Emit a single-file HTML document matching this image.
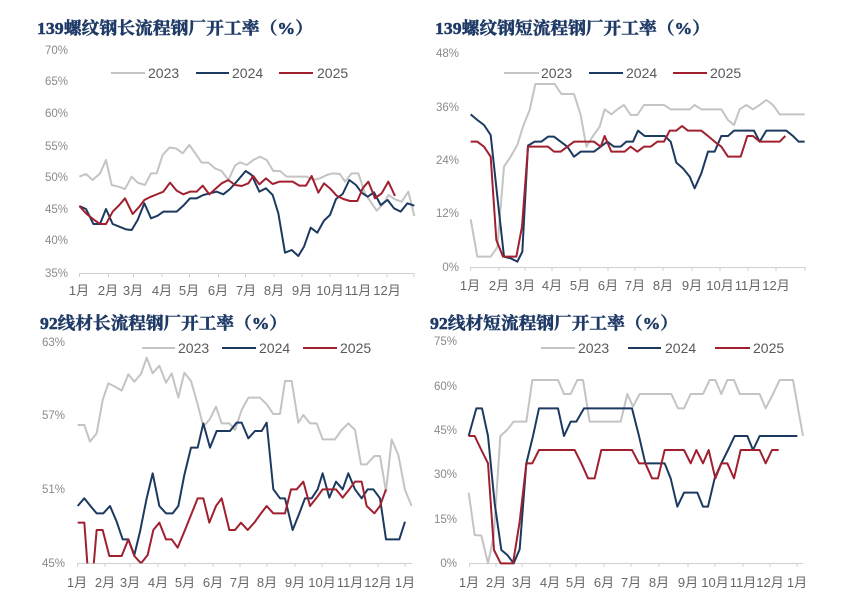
<!DOCTYPE html>
<html><head><meta charset="utf-8"><style>
html,body{margin:0;padding:0;background:#fff;}
svg{display:block;}
.t{font-family:"Liberation Serif","Noto Serif CJK SC",serif;font-weight:bold;font-size:17px;fill:#1f3a66;stroke:#1f3a66;stroke-width:0.5;}
.y{font-family:"Liberation Sans",sans-serif;font-size:11.5px;fill:#8a8a8a;text-anchor:end;}
.m{font-family:"Liberation Sans","Noto Sans CJK SC",sans-serif;font-size:13px;fill:#666;text-anchor:middle;}
.l{font-family:"Liberation Sans",sans-serif;font-size:14px;fill:#595959;}
.g{fill:none;stroke:#c4c4c4;stroke-width:2;stroke-linejoin:round;}
.b{fill:none;stroke:#1c3a60;stroke-width:2;stroke-linejoin:round;}
.r{fill:none;stroke:#a0202f;stroke-width:2;stroke-linejoin:round;}
.ax{stroke:#d0d0d0;stroke-width:1;fill:none;}
</style></head><body>
<svg width="856" height="606" viewBox="0 0 856 606" xmlns="http://www.w3.org/2000/svg">
<defs>
<clipPath id="c3"><rect x="0" y="0" width="1300" height="790"/></clipPath>
</defs>

<!-- Panel 1 -->
<text class="t" x="37" y="34" textLength="276" lengthAdjust="spacingAndGlyphs">139螺纹钢长流程钢厂开工率（%）</text>
<g>
<text class="y" x="68" y="54">70%</text>
<text class="y" x="68" y="85">65%</text>
<text class="y" x="68" y="117">60%</text>
<text class="y" x="68" y="150">55%</text>
<text class="y" x="68" y="181">50%</text>
<text class="y" x="68" y="213">45%</text>
<text class="y" x="68" y="244">40%</text>
<text class="y" x="68" y="277">35%</text>
</g>
<path class="ax" d="M79.5 273.5H414 M79.5 273v4 M108.5 273v4 M133.5 273v4 M162 273v4 M189.5 273v4 M218.5 273v4 M245.5 273v4 M274 273v4 M302 273v4 M330 273v4 M358 273v4 M387 273v4 M414 273v4"/>
<g>
<text class="m" x="79" y="295">1月</text><text class="m" x="108" y="295">2月</text><text class="m" x="133" y="295">3月</text>
<text class="m" x="162" y="295">4月</text><text class="m" x="189" y="295">5月</text><text class="m" x="218" y="295">6月</text>
<text class="m" x="246" y="295">7月</text><text class="m" x="274" y="295">8月</text><text class="m" x="302" y="295">9月</text>
<text class="m" x="330" y="295">10月</text><text class="m" x="358" y="295">11月</text><text class="m" x="387" y="295">12月</text>
</g>
<line x1="111" y1="73" x2="145" y2="73" class="g"/><text class="l" x="148" y="78">2023</text>
<line x1="196" y1="73" x2="229" y2="73" class="b"/><text class="l" x="232" y="78">2024</text>
<line x1="279" y1="73" x2="313" y2="73" class="r"/><text class="l" x="317" y="78">2025</text>
<g transform="scale(0.33333)">
<polyline class="g" vector-effect="non-scaling-stroke" points="238,530 258,522 278,540 300,520 318,480 335,555 355,560 375,567 395,530 413,548 435,555 453,520 470,520 488,465 508,443 528,445 548,460 568,435 588,463 605,488 625,488 645,505 665,513 685,540 705,497 720,487 740,495 760,480 780,470 800,480 820,513 840,513 860,530 880,530 900,530 920,530 940,540 960,535 980,525 1000,520 1020,522 1035,545 1055,520 1075,520 1095,580 1115,610 1130,632 1150,612 1165,585 1185,598 1205,605 1225,575 1243,648"/>
<polyline class="b" vector-effect="non-scaling-stroke" points="238,618 258,627 280,672 300,672 318,627 338,672 358,680 378,688 395,690 413,660 433,610 453,655 473,647 490,635 510,635 530,635 550,617 570,595 590,595 610,585 630,580 650,575 670,583 690,567 710,545 737,513 755,525 778,575 798,565 818,585 835,640 855,758 875,750 895,768 912,740 932,683 952,698 972,662 990,645 1008,597 1028,582 1048,540 1068,555 1085,578 1103,590 1122,577 1142,615 1163,600 1182,625 1202,635 1222,610 1243,617"/>
<polyline class="r" vector-effect="non-scaling-stroke" points="238,618 258,640 280,658 300,672 318,672 338,635 358,615 375,595 398,642 418,620 433,600 453,590 473,582 490,575 510,548 530,572 550,583 570,575 590,575 608,557 628,583 648,565 665,550 685,540 705,555 725,558 745,550 760,528 778,553 798,535 818,552 838,545 858,545 878,545 898,557 918,557 935,528 955,578 972,550 990,565 1010,587 1030,597 1050,603 1072,603 1088,565 1105,545 1125,595 1145,580 1165,545 1185,588"/>
</g>

<!-- Panel 2 -->
<text class="t" x="435" y="34" textLength="275" lengthAdjust="spacingAndGlyphs">139螺纹钢短流程钢厂开工率（%）</text>
<text class="y" x="459" y="57">48%</text>
<text class="y" x="459" y="111">36%</text>
<text class="y" x="459" y="164">24%</text>
<text class="y" x="459" y="217">12%</text>
<text class="y" x="459" y="271">0%</text>
<path class="ax" d="M470.5 267.5H805 M470.5 267v4 M499 267v4 M525 267v4 M552 267v4 M580 267v4 M608 267v4 M635 267v4 M663 267v4 M692 267v4 M720 267v4 M748 267v4 M776 267v4 M805 267v4"/>
<g>
<text class="m" x="470" y="290">1月</text><text class="m" x="499" y="290">2月</text><text class="m" x="525" y="290">3月</text>
<text class="m" x="552" y="290">4月</text><text class="m" x="580" y="290">5月</text><text class="m" x="608" y="290">6月</text>
<text class="m" x="635" y="290">7月</text><text class="m" x="663" y="290">8月</text><text class="m" x="692" y="290">9月</text>
<text class="m" x="720" y="290">10月</text><text class="m" x="748" y="290">11月</text><text class="m" x="776" y="290">12月</text>
</g>
<line x1="504" y1="73" x2="539" y2="73" class="g"/><text class="l" x="541" y="78">2023</text>
<line x1="589" y1="73" x2="623" y2="73" class="b"/><text class="l" x="626" y="78">2024</text>
<line x1="673" y1="73" x2="707" y2="73" class="r"/><text class="l" x="710" y="78">2025</text>
<g transform="translate(428,0) scale(0.33333)">
<polyline class="g" vector-effect="non-scaling-stroke" points="128,658 148,770 168,770 188,770 208,742 228,500 248,470 268,435 285,380 305,330 322,252 342,252 362,252 380,252 400,282 418,282 438,282 458,345 475,440 495,408 515,380 530,328 550,343 568,328 588,315 608,345 628,345 648,315 668,315 688,315 708,315 728,328 748,328 768,328 785,328 800,315 820,328 840,328 860,328 880,328 900,360 918,375 935,328 955,315 975,328 995,315 1015,300 1035,315 1055,343 1075,343 1095,343 1115,343 1130,343"/>
<polyline class="b" vector-effect="non-scaling-stroke" points="128,343 148,360 168,375 188,405 208,590 228,770 248,775 268,785 283,755 300,437 320,425 340,425 360,410 378,410 398,425 418,440 438,470 458,455 478,455 498,455 518,440 538,425 558,440 578,440 595,425 615,425 630,392 650,408 670,408 690,408 710,408 728,425 745,488 765,505 785,530 800,565 820,520 840,455 860,455 880,408 900,408 918,392 938,392 958,392 978,392 995,425 1015,392 1035,392 1055,392 1075,392 1095,408 1112,425 1130,425"/>
<polyline class="r" vector-effect="non-scaling-stroke" points="128,425 148,425 168,440 188,470 205,720 225,770 245,770 265,770 282,680 300,440 320,440 340,440 360,440 378,455 398,455 418,440 438,425 458,425 478,425 498,425 518,440 530,408 550,455 570,455 590,455 608,440 628,455 648,440 668,440 688,425 708,425 725,392 745,392 762,378 780,392 800,392 820,392 840,408 860,425 880,440 900,470 918,470 938,470 958,408 975,408 995,425 1015,425 1035,425 1055,425 1072,408"/>
</g>

<!-- Panel 3 -->
<text class="t" x="40" y="329" textLength="247" lengthAdjust="spacingAndGlyphs">92线材长流程钢厂开工率（%）</text>
<text class="y" x="65" y="346">63%</text>
<text class="y" x="65" y="419">57%</text>
<text class="y" x="65" y="493">51%</text>
<text class="y" x="65" y="567">45%</text>
<path class="ax" d="M77.5 563.5H412 M77.5 563v4 M105 563v4 M130 563v4 M158 563v4 M185 563v4 M213 563v4 M240 563v4 M267 563v4 M295 563v4 M322 563v4 M350 563v4 M378 563v4 M405 563v4"/>
<g>
<text class="m" x="77" y="587">1月</text><text class="m" x="105" y="587">2月</text><text class="m" x="130" y="587">3月</text>
<text class="m" x="158" y="587">4月</text><text class="m" x="185" y="587">5月</text><text class="m" x="213" y="587">6月</text>
<text class="m" x="240" y="587">7月</text><text class="m" x="267" y="587">8月</text><text class="m" x="295" y="587">9月</text>
<text class="m" x="322" y="587">10月</text><text class="m" x="350" y="587">11月</text><text class="m" x="378" y="587">12月</text>
<text class="m" x="405" y="587">1月</text>
</g>
<line x1="142" y1="348" x2="175" y2="348" class="g"/><text class="l" x="178" y="353">2023</text>
<line x1="222" y1="348" x2="256" y2="348" class="b"/><text class="l" x="259" y="353">2024</text>
<line x1="303" y1="348" x2="337" y2="348" class="r"/><text class="l" x="340" y="353">2025</text>
<g transform="translate(0,300) scale(0.33333)">
<g clip-path="url(#c3)">
<polyline class="g" vector-effect="non-scaling-stroke" points="233,375 253,375 270,425 290,400 308,300 325,250 345,260 365,272 385,223 403,245 423,222 440,173 458,220 478,197 498,248 515,220 535,293 553,218 573,243 593,313 610,380 630,357 648,320 665,370 688,370 705,390 725,330 745,293 765,293 780,293 800,313 820,342 840,342 855,243 875,243 895,368 910,345 930,370 950,370 968,418 988,418 1005,418 1025,390 1045,370 1065,390 1083,493 1100,493 1123,468 1140,468 1158,575 1175,418 1195,465 1215,570 1235,618"/>
<polyline class="b" vector-effect="non-scaling-stroke" points="233,618 253,595 273,620 290,640 310,640 330,618 350,665 368,718 385,718 403,765 420,695 440,595 458,520 478,618 498,640 518,640 535,618 553,525 573,443 593,443 610,370 630,443 650,393 668,393 690,393 710,368 725,368 745,415 765,393 785,393 800,368 820,568 840,595 855,595 878,690 898,640 915,595 935,595 953,568 968,520 988,593 1008,545 1028,568 1045,520 1065,568 1085,595 1103,568 1120,568 1140,595 1158,718 1178,718 1198,718 1215,665"/>
<polyline class="r" vector-effect="non-scaling-stroke" points="233,668 253,668 265,830 278,830 290,690 308,690 328,768 348,768 365,768 385,718 403,768 423,790 443,765 460,690 478,668 498,718 515,718 533,743 553,695 573,645 593,595 610,595 628,668 648,618 665,595 688,690 705,690 723,668 743,690 763,668 783,640 800,618 820,640 840,640 855,640 873,568 890,568 910,545 930,618 950,593 968,568 988,568 1008,568 1028,593 1048,568 1065,545 1085,545 1100,618 1123,640 1140,618 1158,568"/>
</g>
</g>

<!-- Panel 4 -->
<text class="t" x="430" y="329" textLength="248" lengthAdjust="spacingAndGlyphs">92线材短流程钢厂开工率（%）</text>
<text class="y" x="457" y="345">75%</text>
<text class="y" x="457" y="390">60%</text>
<text class="y" x="457" y="434">45%</text>
<text class="y" x="457" y="478">30%</text>
<text class="y" x="457" y="523">15%</text>
<text class="y" x="457" y="567">0%</text>
<path class="ax" d="M469 563.5H803 M469.5 563v4 M496 563v4 M522 563v4 M550 563v4 M576 563v4 M604 563v4 M631 563v4 M659 563v4 M688 563v4 M715 563v4 M743 563v4 M770 563v4 M797 563v4"/>
<g>
<text class="m" x="469" y="587">1月</text><text class="m" x="496" y="587">2月</text><text class="m" x="522" y="587">3月</text>
<text class="m" x="550" y="587">4月</text><text class="m" x="576" y="587">5月</text><text class="m" x="604" y="587">6月</text>
<text class="m" x="631" y="587">7月</text><text class="m" x="659" y="587">8月</text><text class="m" x="688" y="587">9月</text>
<text class="m" x="715" y="587">10月</text><text class="m" x="743" y="587">11月</text><text class="m" x="770" y="587">12月</text>
<text class="m" x="797" y="587">1月</text>
</g>
<line x1="541" y1="348" x2="575" y2="348" class="g"/><text class="l" x="578" y="353">2023</text>
<line x1="628" y1="348" x2="661" y2="348" class="b"/><text class="l" x="665" y="353">2024</text>
<line x1="715" y1="348" x2="750" y2="348" class="r"/><text class="l" x="753" y="353">2025</text>
<g transform="translate(428,300) scale(0.33333)">
<polyline class="g" vector-effect="non-scaling-stroke" points="122,578 140,705 160,707 180,790 197,710 217,408 237,390 257,365 275,365 295,365 313,240 333,240 353,240 373,240 390,240 408,282 428,282 448,240 465,240 485,365 505,365 525,365 545,365 565,365 578,365 598,282 615,320 635,282 655,282 675,282 695,282 713,282 730,282 750,325 768,325 788,282 808,282 825,282 845,240 862,240 880,282 898,240 918,240 935,282 955,282 975,282 995,282 1013,325 1035,282 1055,240 1075,240 1095,240 1110,325 1125,408"/>
<polyline class="b" vector-effect="non-scaling-stroke" points="122,408 145,325 162,325 180,408 200,610 220,750 238,765 257,790 275,748 295,490 315,408 333,325 355,325 373,325 390,325 408,408 428,365 445,365 468,325 488,325 508,325 528,325 548,325 568,325 590,325 612,325 633,408 652,490 672,490 692,490 710,490 728,535 748,620 768,578 788,578 808,578 825,620 840,620 860,535 880,490 900,450 920,408 940,408 958,408 975,450 995,408 1015,408 1035,408 1055,408 1075,408 1095,408 1108,408"/>
<polyline class="r" vector-effect="non-scaling-stroke" points="122,408 140,408 160,450 180,490 198,750 218,790 238,790 255,790 275,665 295,490 313,490 333,450 353,450 373,450 393,450 413,450 440,450 460,490 480,535 500,535 520,450 540,450 560,450 580,450 600,450 612,450 633,490 652,490 672,535 690,535 710,450 730,450 750,450 768,450 788,490 805,450 825,490 842,450 862,535 880,490 898,490 918,535 938,450 955,450 975,450 995,450 1013,490 1032,450 1052,450"/>
</g>
</svg>
</body></html>
